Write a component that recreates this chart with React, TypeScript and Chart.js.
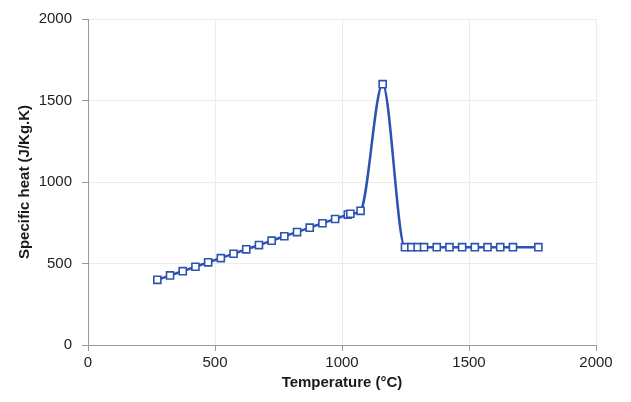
import React, { useEffect, useRef } from "react";
import { Chart, registerables } from "chart.js";

Chart.register(...registerables);

const temperatures = [273, 323, 373, 423, 473, 523, 573, 623, 673, 723, 773, 823, 873, 923, 973, 1023, 1033, 1073, 1160, 1248, 1273, 1298, 1323, 1373, 1423, 1473, 1523, 1573, 1623, 1673, 1773];
const specificHeat = [400, 427, 453, 480, 507, 533, 560, 587, 613, 640, 667, 693, 720, 747, 773, 800, 805, 823, 1600, 600, 600, 600, 600, 600, 600, 600, 600, 600, 600, 600, 600];
const xTitle = "Temperature (°C)";
const yTitle = "Specific heat (J/Kg.K)";

const BLUE = "#2c52b4";
const FONT = "'Liberation Sans', Arial, sans-serif";

export default function App() {
  const ref = useRef<HTMLCanvasElement | null>(null);
  useEffect(() => {
    document.body.style.margin = "0";
    const canvas = ref.current;
    if (!canvas) return;
    const points = temperatures.map((t, i) => ({ x: t, y: specificHeat[i] }));
    const chart = new Chart(canvas, {
      type: "line",
      data: {
        datasets: [
          {
            data: points,
            borderColor: BLUE,
            borderWidth: 2.5,
            backgroundColor: "#ffffff",
            pointStyle: "rect",
            pointRadius: 5,
            pointBorderWidth: 1.6,
            pointBorderColor: BLUE,
            pointBackgroundColor: "#ffffff",
            cubicInterpolationMode: "monotone",
            fill: false,
          },
        ],
      },
      options: {
        responsive: false,
        animation: false,
        layout: { padding: { top: 15, right: 35, left: 0, bottom: 0 } },
        plugins: { legend: { display: false }, tooltip: { enabled: false } },
        scales: {
          x: {
            type: "linear",
            min: 0,
            max: 2000,
            ticks: { stepSize: 500, color: "#222222", font: { family: FONT, size: 15 }, padding: 3, maxRotation: 0, callback: (v: any) => String(v) },
            grid: { color: "#ececec", tickColor: "#9a9a9a", tickLength: 6, lineWidth: 1 },
            border: { color: "#9a9a9a", width: 1 },
            title: { display: true, text: xTitle, color: "#1a1a1a", font: { family: FONT, size: 15, weight: "bold" }, padding: { top: 0, bottom: 10 } },
            afterFit: (s: any) => { s.height = 57; },
          },
          y: {
            type: "linear",
            min: 0,
            max: 2000,
            ticks: { stepSize: 500, color: "#222222", font: { family: FONT, size: 15 }, padding: 10, callback: (v: any) => String(v) },
            grid: { color: "#ececec", tickColor: "#9a9a9a", tickLength: 6, lineWidth: 1 },
            border: { color: "#9a9a9a", width: 1 },
            title: { display: true, text: yTitle, color: "#1a1a1a", font: { family: FONT, size: 15, weight: "bold" }, padding: { top: 16, bottom: 0 } },
            afterFit: (s: any) => { s.width = 88; },
          },
        },
      },
    });
    return () => chart.destroy();
  }, []);
  return <canvas ref={ref} width={631} height={402} style={{ display: "block" }} />;
}
